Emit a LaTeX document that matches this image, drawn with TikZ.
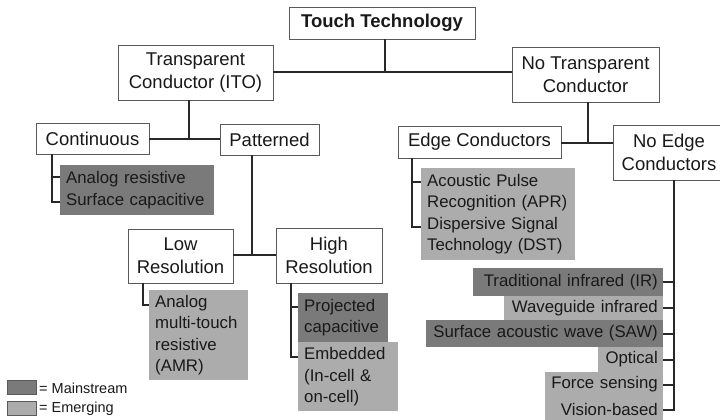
\documentclass[tikz,border=0pt]{standalone}
\usepackage{fontspec}
\setmainfont{Liberation Sans}
\definecolor{dk}{RGB}{122,122,122}
\definecolor{md}{RGB}{172,172,172}
\definecolor{lnc}{RGB}{40,40,40}
\definecolor{bd}{RGB}{90,90,90}
\definecolor{tx}{RGB}{25,25,25}
\begin{document}
\begin{tikzpicture}[x=1pt,y=-1pt,
 wbox/.style={draw=bd, line width=0.9pt, fill=white, align=center, inner sep=0pt, text=tx, font=\fontsize{18.5}{23}\selectfont},
 gbox/.style={anchor=north west, inner xsep=6pt, inner ysep=0pt, align=left, text=tx, font=\fontsize{16.8}{21.5}\selectfont},
 ibox/.style={anchor=east, inner xsep=5pt, inner ysep=0pt, align=right, text=tx, font=\fontsize{16.8}{20}\selectfont},
 conn/.style={draw=lnc, line width=2pt},
 swatch/.style={draw=bd, line width=0.5pt, minimum width=29, minimum height=14, inner sep=0pt, anchor=north west},
 legtext/.style={anchor=west, inner sep=0pt, text=tx, font=\fontsize{14.5}{16}\selectfont},
]
\useasboundingbox (0,0) rectangle (720,420);
\fill[white] (0,0) rectangle (720,420);

% connectors
\coordinate (j1) at (385,72);
\coordinate (j2) at (189,139);
\coordinate (j3) at (252,255);
\coordinate (j4) at (588,143);
\coordinate (c1) at (52,177);
\coordinate (c2) at (52,202);
\coordinate (l1) at (143,305);
\coordinate (h1) at (291,307);
\coordinate (h2) at (291,357);
\coordinate (e1) at (412,182);
\coordinate (e2) at (412,227);
\coordinate (n0) at (674,410);

% white boxes
\node[wbox, minimum width=186, minimum height=32, font=\bfseries\fontsize{18.5}{23}\selectfont] (touch) at (382,23) {Touch Technology};
\node[wbox, minimum width=155, minimum height=55] (tc) at (195.5,72.5) {Transparent\\Conductor (ITO)};
\node[wbox, minimum width=147, minimum height=55] (nt) at (585.5,74.5) {No Transparent\\Conductor};
\node[wbox, minimum width=113, minimum height=31] (cont) at (92.5,138.5) {Continuous};
\node[wbox, minimum width=99, minimum height=31] (pat) at (269.5,139.5) {Patterned};
\node[wbox, minimum width=105, minimum height=54] (lowr) at (180.5,256) {Low\\Resolution};
\node[wbox, minimum width=106, minimum height=55] (highr) at (329,255.5) {High\\Resolution};
\node[wbox, minimum width=163, minimum height=32] (edge) at (479.5,142) {Edge Conductors};
\node[wbox, minimum width=112, minimum height=55] (noedge) at (669,152.5) {No Edge\\Conductors};

% grey boxes
\node[gbox, fill=dk, minimum width=154, minimum height=50, text width=142] (ar) at (60,165) {Analog resistive\\Surface capacitive};
\node[gbox, fill=md, minimum width=99, minimum height=90, text width=87] (amr) at (149,290) {Analog\\multi-touch\\resistive\\(AMR)};
\node[gbox, fill=dk, minimum width=90, minimum height=49, text width=78] (proj) at (298,293) {Projected\\capacitive};
\node[gbox, fill=md, minimum width=100, minimum height=69, text width=88] (emb) at (298,342) {Embedded\\(In-cell \&\\on-cell)};
\node[gbox, fill=md, minimum width=154, minimum height=92, text width=142] (apr) at (421,168) {Acoustic Pulse\\Recognition (APR)\\Dispersive Signal\\Technology (DST)};

\node[ibox, fill=dk, minimum width=190, minimum height=28, text width=180] (ir) at (663,282) {Traditional infrared (IR)};
\node[ibox, fill=md, minimum width=159, minimum height=24, text width=149] (wg) at (663,308) {Waveguide infrared};
\node[ibox, fill=dk, minimum width=237, minimum height=27, text width=227] (saw) at (663,333.5) {Surface acoustic wave (SAW)};
\node[ibox, fill=md, minimum width=65, minimum height=25, text width=55] (opt) at (663,359.5) {Optical};
\node[ibox, fill=md, minimum width=118, minimum height=25, text width=108] (force) at (663,384.5) {Force sensing};
\node[ibox, fill=md, minimum width=118, minimum height=25, text width=108] (vis) at (663,409.5) {Vision-based};

% connector lines
\draw[conn] (touch.south -| j1) -- (j1);
\draw[conn] (tc.east) -- (nt.west |- tc.east);
\draw[conn] (tc.south -| j2) -- (j2);
\draw[conn] (cont.east |- j2) -- (pat.west |- j2);
\draw[conn] (pat.south -| j3) -- (j3);
\draw[conn] (lowr.east |- j3) -- (highr.west |- j3);
\draw[conn] (nt.south -| j4) -- (j4);
\draw[conn] (edge.east |- j4) -- (noedge.west |- j4);

\draw[conn] (cont.south -| c2) -- (c2) -- (c2 -| ar.west);
\draw[conn] (c1) -- (c1 -| ar.west);
\draw[conn] (lowr.south -| l1) -- (l1) -- (l1 -| amr.west);
\draw[conn] (highr.south -| h2) -- (h2) -- (h2 -| emb.west);
\draw[conn] (h1) -- (h1 -| proj.west);
\draw[conn] (edge.south -| e2) -- (e2) -- (e2 -| apr.west);
\draw[conn] (e1) -- (e1 -| apr.west);
\draw[conn] (noedge.south -| n0) -- (n0 |- vis.east) -- (vis.east);
\foreach \k in {ir,wg,saw,opt,force}{
  \draw[conn] (\k.east) -- (\k.east -| n0);
}

% legend
\node[swatch, fill=dk] (lgA) at (7,380) {};
\node[legtext] (lgAt) at (39,388) {= Mainstream};
\node[swatch, fill=md] (lgB) at (7,401) {};
\node[legtext] (lgBt) at (39,409) {= Emerging};
\end{tikzpicture}
\end{document}
